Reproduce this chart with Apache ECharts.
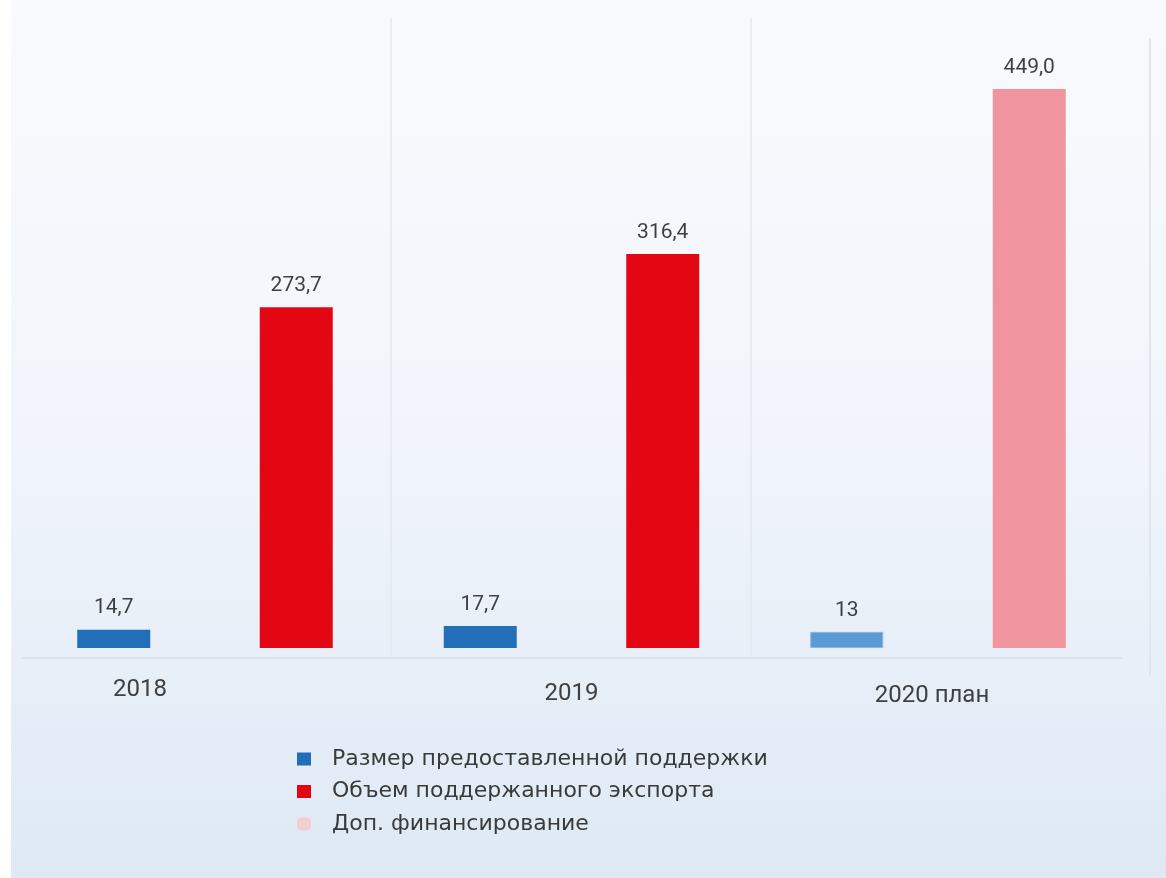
<!DOCTYPE html>
<html>
<head>
<meta charset="utf-8">
<script src="https://cdn.jsdelivr.net/npm/echarts@6/dist/echarts.min.js"></script>
<style>
html,body{margin:0;padding:0;background:#ffffff;}
#chart{position:absolute;left:11px;top:0;width:1155px;height:878px;}
</style>
</head>
<body>
<div id="chart"></div>
<script>
// Data
const categories = ['2018', '2019', '2020 план'];
const seriesNames = ['Размер предоставленной поддержки', 'Объем поддержанного экспорта', 'Доп. финансирование'];
const supportValues = [14.7, 17.7, 13];
const exportValues = [273.7, 316.4, 449.0];
const extraValues = [null, null, null];

const fmt = (v, d) => (d === null ? String(v) : v.toFixed(d)).replace('.', ',');

const chart = echarts.init(document.getElementById('chart'));
const labelFont = 'Roboto, "Noto Sans", sans-serif';

chart.setOption({
  backgroundColor: {
    type: 'linear', x: 0, y: 0, x2: 0, y2: 1,
    colorStops: [
      {offset: 0, color: '#f9fafd'},
      {offset: 0.5, color: '#f1f5fb'},
      {offset: 1, color: '#dee9f5'}
    ]
  },
  animation: false,
  grid: {left: 10.75, right: 44.75, top: 25.5, bottom: 220, containLabel: false},
  legend: {
    orient: 'vertical',
    left: 281,
    top: 743,
    itemWidth: 14,
    itemHeight: 13,
    itemGap: 10.5,
    textStyle: {fontFamily: '"DejaVu Sans", sans-serif', fontSize: 22, color: '#3a3a3a', lineHeight: 22, padding: [0, 0, 0, 16]},
    data: [
      {name: seriesNames[0], icon: 'rect'},
      {name: seriesNames[1], icon: 'rect'},
      {name: seriesNames[2], icon: 'roundRect', itemStyle: {color: '#f3cfd4'}}
    ]
  },
  xAxis: {
    type: 'category',
    data: categories,
    axisLine: {onZero: false, lineStyle: {color: '#dce2ea', width: 2}},
    axisTick: {show: false},
    splitLine: {show: false},
    axisLabel: {
      margin: 20,
      fontFamily: labelFont,
      fontSize: 24,
      color: '#404040',
      formatter: function (v, i) {
        if (i === 0) return '{a|' + v + '}';
        if (i === 2) return '{c|' + v + '}';
        return '{b|' + v + '}';
      },
      rich: {
        a: {fontFamily: labelFont, fontSize: 24, color: '#404040', padding: [0, 130, 0, 0]},
        b: {fontFamily: labelFont, fontSize: 24, color: '#404040', padding: [4, 0, 0, 0]},
        c: {fontFamily: labelFont, fontSize: 24, color: '#404040', padding: [6, 12, 0, 0]}
      }
    }
  },
  yAxis: {
    type: 'value',
    min: -8,
    max: 500,
    show: false,
    splitLine: {show: false}
  },
  series: [
    {
      name: seriesNames[0],
      type: 'bar',
      barWidth: 73,
      barGap: '150%',
      itemStyle: {color: '#236eb8'},
      label: {show: true, position: 'top', distance: 11, fontFamily: labelFont, fontSize: 21, color: '#404040',
        formatter: p => fmt(p.value, null)},
      data: supportValues.map((v, i) => i === 2 ? {value: v, itemStyle: {color: '#5b9bd5', borderColor: '#8ab8e3', borderWidth: 1}} : v)
    },
    {
      name: seriesNames[1],
      type: 'bar',
      stack: 'exp',
      barWidth: 73,
      itemStyle: {color: '#e30613'},
      label: {show: true, position: 'top', distance: 11, fontFamily: labelFont, fontSize: 21, color: '#404040',
        formatter: p => fmt(p.value, 1)},
      data: exportValues.map((v, i) => i === 2 ? {value: v, itemStyle: {color: '#f0959d'}} : v)
    },
    {
      name: seriesNames[2],
      type: 'bar',
      stack: 'exp',
      barWidth: 73,
      itemStyle: {color: '#f3cfd4'},
      data: extraValues
    }
  ],
  graphic: [
    {type: 'line', shape: {x1: 380, y1: 18, x2: 380, y2: 658}, style: {stroke: '#e4e8ee', lineWidth: 1.5}, silent: true, z: -1},
    {type: 'line', shape: {x1: 740, y1: 18, x2: 740, y2: 658}, style: {stroke: '#e4e8ee', lineWidth: 1.5}, silent: true, z: -1},
    {type: 'line', shape: {x1: 1139, y1: 38, x2: 1139, y2: 675}, style: {stroke: '#e2e6ec', lineWidth: 2}, silent: true, z: -1}
  ]
});
</script>
</body>
</html>
